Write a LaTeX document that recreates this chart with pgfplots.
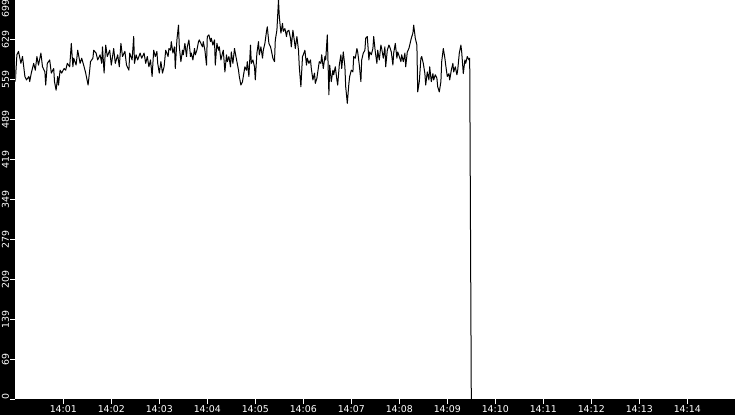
\documentclass[border=0pt]{standalone}
\usepackage{fontspec}
\setmainfont{DejaVu Sans}
\usepackage{pgfplots}
\pgfplotsset{compat=1.18}

% x: seconds after 14:00:00, y: value
\pgfplotstableread{
t v
0 556
2 603
4 609
7 588
9 600
12 565
14 559
17 565
18 556
20 571
23 588
25 576
27 600
29 585
32 606
34 582
37 573
38 550
40 588
43 594
45 571
48 579
49 556
51 541
53 565
54 550
56 576
58 571
61 579
63 576
65 588
68 582
70 623
72 582
73 597
76 585
78 611
81 588
83 597
86 582
88 571
91 550
93 576
94 591
97 597
98 611
101 606
103 594
106 603
108 588
109 617
111 571
113 620
115 600
118 611
120 585
123 614
125 588
128 603
130 582
132 623
134 600
137 609
139 585
142 576
143 606
146 594
148 635
149 588
151 603
153 594
156 606
158 597
161 606
163 588
165 600
167 582
169 594
171 565
173 611
175 600
177 609
178 588
180 571
182 591
184 571
186 582
188 611
191 600
192 614
194 611
195 626
197 606
199 617
200 579
202 629
204 655
205 617
207 591
209 611
210 603
212 623
214 600
215 617
217 629
219 600
220 606
222 594
224 614
225 603
227 611
229 626
230 629
232 623
234 617
235 626
237 611
239 585
240 635
242 638
244 626
245 632
247 620
249 629
250 585
252 623
254 611
255 617
257 594
259 606
260 611
262 573
264 603
265 591
267 600
269 582
270 608
272 588
274 614
275 606
277 591
279 576
280 565
282 550
284 556
285 565
287 582
289 576
290 591
292 565
294 620
295 588
297 594
299 582
300 559
302 606
304 626
305 603
307 617
309 597
310 611
312 623
314 644
315 652
317 623
319 617
320 611
322 597
324 591
325 629
327 646
329 699
330 670
332 641
334 658
335 644
337 649
339 635
340 644
342 646
344 632
345 617
347 646
349 626
350 614
352 635
354 611
355 582
357 547
359 600
360 603
362 611
364 585
365 597
367 588
369 594
370 579
372 559
374 571
375 553
377 562
379 582
380 591
382 588
383 603
385 579
387 600
388 594
390 638
392 533
393 585
395 556
397 576
398 568
400 582
402 559
403 550
405 585
407 603
408 579
410 608
412 582
413 547
415 518
417 553
418 565
420 576
422 573
423 600
425 597
427 614
428 608
430 585
432 556
433 594
435 606
437 611
438 632
440 635
442 594
443 608
445 603
447 614
448 635
450 608
452 588
453 611
455 594
457 620
458 614
460 597
462 617
463 582
465 611
467 620
468 617
470 608
472 585
473 606
475 623
477 597
478 608
480 600
482 591
483 603
485 591
487 606
488 582
490 608
492 614
493 620
495 632
497 641
498 655
500 632
502 620
503 538
505 556
507 597
508 600
510 588
512 570
513 550
515 573
517 559
518 582
520 556
522 570
523 559
525 568
527 562
528 547
530 538
532 556
533 591
535 614
537 597
538 585
540 565
542 570
543 559
545 576
547 588
548 573
550 582
552 568
553 576
555 606
557 620
558 608
560 570
562 594
563 588
565 600
567 594
568 597
569 296
570 0
}\datatable

\begin{document}
\begin{tikzpicture}
\fill[black] (0,0) rectangle (735pt,415pt);
\useasboundingbox (0,0) rectangle (735pt,415pt);
\begin{axis}[
    at={(15.3pt,16pt)}, anchor=south west,
    scale only axis,
    width=720pt, height=399pt,
    xmin=0, xmax=900,
    ymin=0, ymax=699,
    axis background/.style={fill=white},
    axis line style={draw=none},
    tick align=outside,
    major tick length=5pt,
    tick style={white, line width=1pt},
    xtick pos=bottom, ytick pos=left,
    xtick={60,120,...,840},
    xticklabels={14:01,14:02,14:03,14:04,14:05,14:06,14:07,14:08,14:09,14:10,14:11,14:12,14:13,14:14},
    ytick={0,69.9,139.8,209.7,279.6,349.5,419.4,489.3,559.2,629.1,699},
    yticklabels={\makebox[0pt][l]{0},69,139,209,279,349,419,489,559,629,\makebox[0pt][r]{699}},
    tick label style={white, font=\fontsize{9.4}{10}\selectfont, inner sep=1pt},
    yticklabel style={rotate=90, anchor=south},
    xticklabel style={anchor=north},
]
\addplot[black, line width=1pt, line join=round] table[x=t, y=v] {\datatable};
\end{axis}
\end{tikzpicture}
\end{document}
